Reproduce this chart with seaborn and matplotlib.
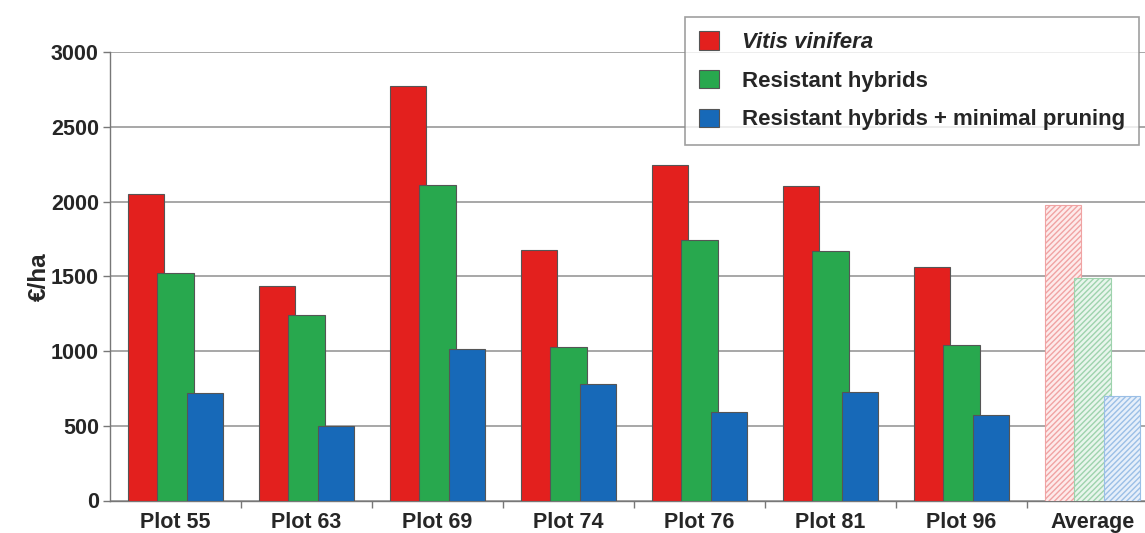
import numpy as np
import pandas as pd
import matplotlib
matplotlib.use("Agg")
import matplotlib.pyplot as plt
import seaborn as sns

sns.set_theme(style="white")
plt.rcParams["font.family"] = ["Liberation Sans", "DejaVu Sans"]
plt.rcParams["font.weight"] = "bold"

# data
plots = ["Plot 55", "Plot 63", "Plot 69", "Plot 74", "Plot 76", "Plot 81", "Plot 96", "Average"]
vitis = [2050, 1433, 2773, 1675, 2244, 2105, 1560, 1978]
hybrids = [1525, 1240, 2110, 1027, 1740, 1672, 1038, 1487]
hybrids_pruning = [722, 496, 1011, 777, 591, 723, 569, 702]
treatments = ["Vitis vinifera", "Resistant hybrids", "Resistant hybrids + minimal pruning"]

colors = ["#e3201e", "#28a84e", "#1769b8"]
avg_fill = ["#fdeaea", "#e8f5ec", "#e6effa"]
avg_hatch = ["#f0a3a3", "#9ed3ad", "#9bbfe6"]

df = pd.DataFrame({
    "plot": plots * 3,
    "value": vitis + hybrids + hybrids_pruning,
    "treatment": np.repeat(treatments, len(plots)),
})

fig = plt.figure(figsize=(11.45, 5.33), dpi=100)
ax = fig.add_axes([110 / 1145, 32.5 / 533, 1048 / 1145, 448.5 / 533])

sns.barplot(data=df, x="plot", y="value", hue="treatment", hue_order=treatments,
            order=plots, palette=colors, width=0.675, gap=-0.222,
            edgecolor="#555555", linewidth=0.8, saturation=1, ax=ax, zorder=3)

# hatched, pale bars for the average
for k, cont in enumerate(ax.containers):
    bar = cont.patches[-1]
    bar.set_facecolor(avg_fill[k])
    bar.set_edgecolor(avg_hatch[k])
    bar.set_hatch("//////")
    bar.set_linewidth(0.8)

ax.set_xlim(-0.5, 7.5)
ax.set_ylim(0, 3000)
ax.set_yticks(np.arange(0, 3001, 500))
ax.yaxis.grid(True, color="#8f8f8f", linewidth=1.1, zorder=0)
ax.set_axisbelow(True)

for side in ["top", "right"]:
    ax.spines[side].set_visible(False)
for side in ["left", "bottom"]:
    ax.spines[side].set_color("#777777")
    ax.spines[side].set_linewidth(1.0)

ax.tick_params(axis="y", length=5, width=1, color="#777777", pad=3, labelsize=15.5, left=True)
ax.tick_params(axis="x", which="major", length=0, pad=8, labelsize=15.5)
ax.set_xticks(np.arange(0.5, 7.5, 1), minor=True)
ax.tick_params(axis="x", which="minor", length=5, width=1, color="#777777", bottom=True)

ax.set_xlabel("")
ax.set_ylabel("€/ha", fontsize=17.5, fontweight="bold", labelpad=0)

sns.move_legend(ax, "upper left", bbox_to_anchor=(685 / 1145, 1 - 17 / 533),
                bbox_transform=fig.transFigure, title=None, frameon=True,
                fontsize=16, handlelength=0.9, handleheight=0.9,
                handletextpad=1.0, labelspacing=0.75, borderpad=0.65,
                borderaxespad=0, fancybox=False, shadow=False)
leg = ax.get_legend()
leg.get_frame().set_edgecolor("#888888")
leg.get_frame().set_linewidth(1.2)
for txt in leg.get_texts():
    txt.set_fontweight("bold")
leg.get_texts()[0].set_style("italic")

fig.savefig("out.png", dpi=100)
